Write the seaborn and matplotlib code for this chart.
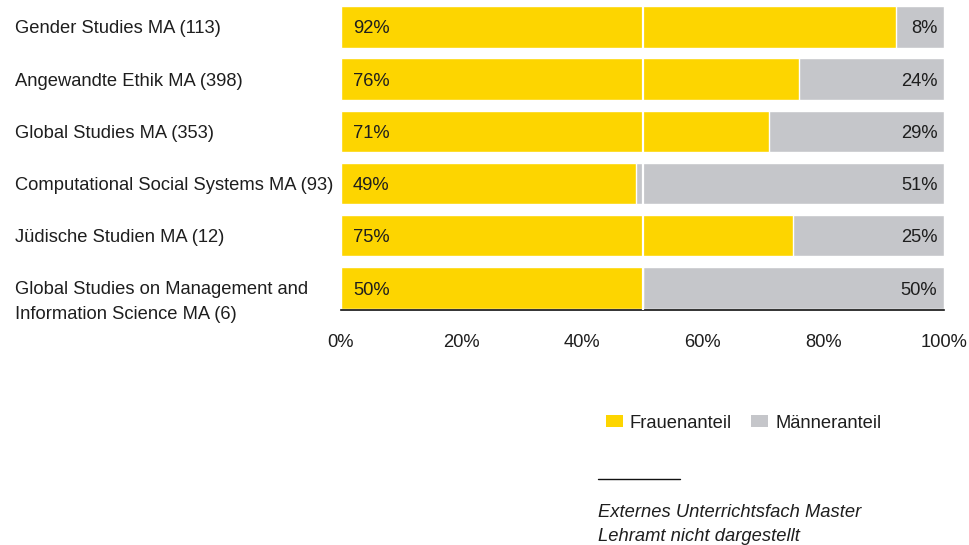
import matplotlib
matplotlib.use("Agg")
import matplotlib.pyplot as plt
from matplotlib.patches import Patch
from matplotlib.transforms import blended_transform_factory, ScaledTranslation
import seaborn as sns
import pandas as pd

programs = [
    "Gender Studies MA (113)",
    "Angewandte Ethik MA (398)",
    "Global Studies MA (353)",
    "Computational Social Systems MA (93)",
    "Jüdische Studien MA (12)",
    "Global Studies on Management and\nInformation Science MA (6)",
]
women = [92, 76, 71, 49, 75, 50]
men = [8, 24, 29, 51, 25, 50]
x_ticks = [0, 20, 40, 60, 80, 100]

YELLOW = "#FDD500"
GREY = "#C5C6CA"
TEXT = "#1e1e1e"

sns.set_theme(style="white")
plt.rcParams["font.family"] = ["Liberation Sans", "DejaVu Sans"]
FS = 13.2
FS_PX = FS * 100 / 72
LINESP = 1.6

df = pd.DataFrame({"program": programs, "women": women, "men": men})
df["total"] = df["women"] + df["men"]

fig = plt.figure(figsize=(9.7, 5.45), dpi=100)
ax = fig.add_axes([341 / 970, 1 - 310 / 545, 603 / 970, 304 / 545])

# full-width grey bar (women + men), women share drawn on top
sns.barplot(data=df, y="program", x="total", color=GREY, width=0.79,
            orient="h", ax=ax, saturation=1)
sns.barplot(data=df, y="program", x="women", color=YELLOW, width=0.79,
            orient="h", ax=ax, saturation=1)

ax.axvline(50, color="white", lw=1.6, zorder=5)

# nudge text slightly down so the glyphs sit optically centred on the bars
nudge = ScaledTranslation(0, -2 / 100, fig.dpi_scale_trans)

for i, (w, m) in enumerate(zip(women, men)):
    ax.text(2.0, i, f"{w}%", ha="left", va="center", fontsize=FS, color=TEXT, zorder=6,
            transform=ax.transData + nudge)
    ax.text(98.9, i, f"{m}%", ha="right", va="center", fontsize=FS, color=TEXT, zorder=6,
            transform=ax.transData + nudge)

ax.set_xlim(0, 100)
ax.set_ylim(5.42, -0.40)
ax.set_xticks(x_ticks)
ax.set_xticklabels([f"{t}%" for t in x_ticks], fontsize=FS, color=TEXT)
ax.set_xlabel("")
ax.set_ylabel("")
ax.set_yticklabels([])
ax.tick_params(axis="x", length=0, pad=17)
ax.tick_params(axis="y", length=0)

# category labels, left-aligned at the figure margin; first line on the bar centre
lab_tr = blended_transform_factory(fig.transFigure, ax.transData)
for i, name in enumerate(programs):
    n_lines = name.count("\n") + 1
    tr = lab_tr + nudge + ScaledTranslation(0, -(n_lines - 1) * 12 / 100, fig.dpi_scale_trans)
    ax.text(15 / 970, i, name, transform=tr, ha="left", va="center",
            fontsize=FS, color=TEXT, linespacing=LINESP, clip_on=False)

for s in ["top", "right", "left"]:
    ax.spines[s].set_visible(False)
ax.spines["bottom"].set_color("#111111")
ax.spines["bottom"].set_linewidth(1.2)

handles = [Patch(facecolor=YELLOW, edgecolor="none", label="Frauenanteil"),
           Patch(facecolor=GREY, edgecolor="none", label="Männeranteil")]
fig.legend(handles=handles, loc="center left", bbox_to_anchor=(606 / 970, 1 - 423 / 545),
           ncol=2, frameon=False, fontsize=FS, handlelength=17 / FS_PX,
           handleheight=12 / FS_PX, handletextpad=7 / FS_PX, columnspacing=19 / FS_PX,
           borderpad=0, borderaxespad=0, labelcolor=TEXT)

fig.add_artist(plt.Line2D([598 / 970, 680 / 970], [1 - 479 / 545, 1 - 479 / 545],
                          color="#111111", lw=1.0))
fig.text(598 / 970, 1 - 524.5 / 545, "Externes Unterrichtsfach Master\nLehramt nicht dargestellt",
         ha="left", va="center", fontsize=FS, style="italic", color=TEXT, linespacing=LINESP)

fig.savefig("out.png", dpi=100)
